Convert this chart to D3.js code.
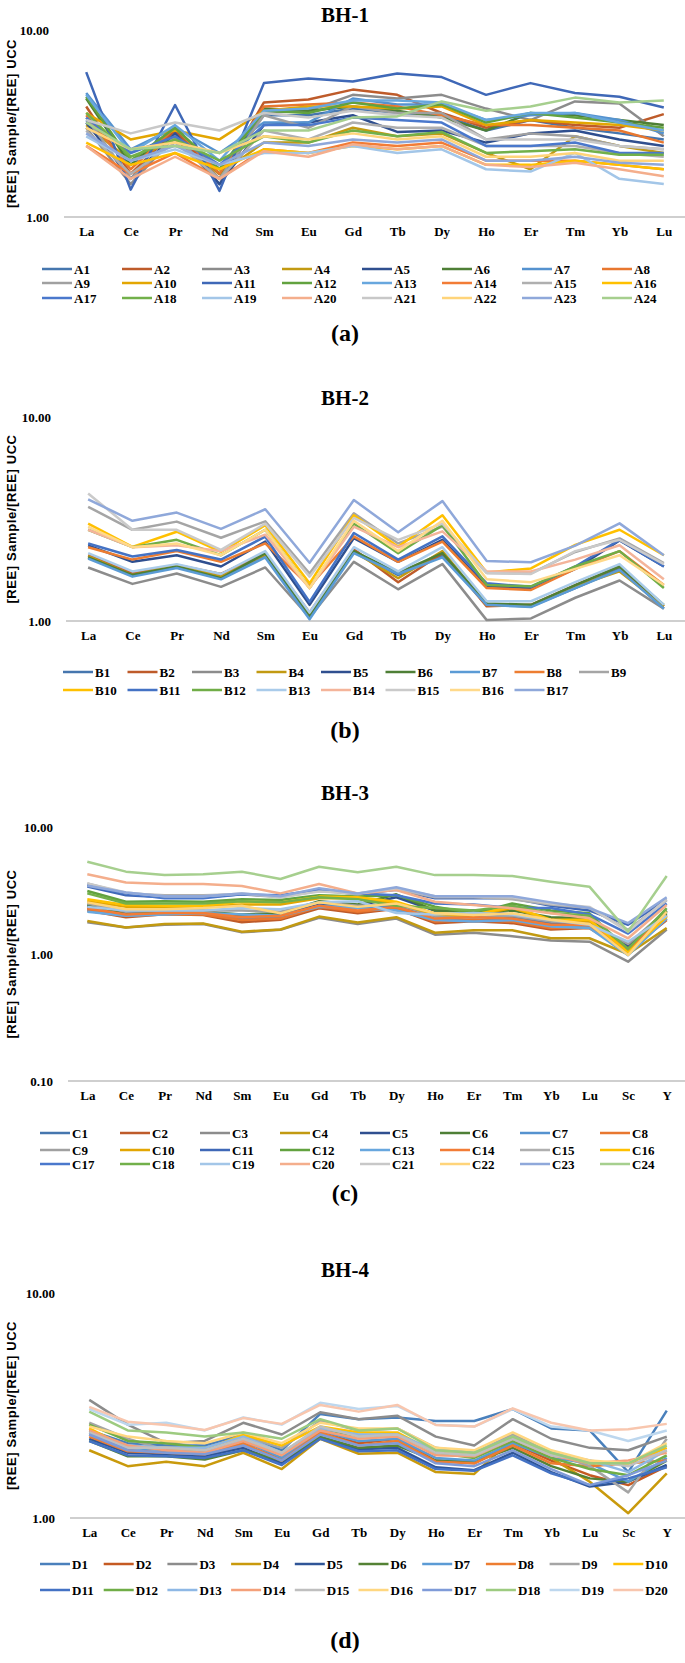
<!DOCTYPE html>
<html><head><meta charset="utf-8">
<script src="https://cdn.jsdelivr.net/npm/d3@7"></script>
<style>body{margin:0;background:#fff}svg{display:block}text{font-family:"Liberation Serif","Times New Roman",serif;font-weight:bold;fill:#000}</style>
</head><body>
<script>
const catsREE = ["La","Ce","Pr","Nd","Sm","Eu","Gd","Tb","Dy","Ho","Er","Tm","Yb","Lu"];
const catsREEY = ["La","Ce","Pr","Nd","Sm","Eu","Gd","Tb","Dy","Ho","Er","Tm","Yb","Lu","Sc","Y"];
const palette24 = ["#4676AE","#BE5B2A","#8C8C8C","#C29A12","#2F4F8F","#4E7F36",
  "#5592CF","#E8772F","#A0A0A0","#E3A602","#3F68B7","#62A23F",
  "#68A7DE","#F27C36","#AFAFAF","#FFC000","#4A78CC","#72B04A",
  "#A3C6E8","#F4AE8C","#C8C8C8","#FFD47A","#8FA8DA","#A6CF8E"];
const palette17 = ["#4676AE","#BE5B2A","#8C8C8C","#C29A12","#2F4F8F","#4E7F36",
  "#5B9BD5","#ED7D31","#A5A5A5","#FFC000","#4472C4","#70AD47",
  "#A9CBEA","#F4B49A","#CACACA","#FFD98A","#8FA8DA"];
const palette20 = ["#4A80BC","#C55A22","#8C8C8C","#C99A0C","#2F5597","#548235",
  "#5B9BD5","#ED7D31","#A5A5A5","#FFC000","#4472C4","#70AD47",
  "#8EB8E5","#F4A07A","#BFBFBF","#FFD780","#7F9BD8","#9DCB80","#BDD7EE","#F8C6AE"];

const namesA = d3.range(1,25).map(i=>"A"+i);
const valuesA = [
 [3.3,1.9,2.9,1.8,3.5,3.5,3.8,3.6,3.5,2.9,3.3,3.0,2.8,2.6],
 [3.9,1.7,2.9,1.6,4.1,4.25,4.8,4.5,3.6,3.0,3.3,3.1,3.0,3.55],
 [3.0,1.5,2.7,1.5,3.6,3.7,4.5,4.3,4.5,3.8,3.3,4.15,4.05,2.7],
 [3.1,2.0,2.6,1.7,2.5,2.5,3.0,2.7,2.8,2.2,1.8,2.7,2.4,2.2],
 [3.2,1.6,2.8,1.5,3.1,3.2,3.5,2.85,2.9,2.5,2.8,2.9,2.6,2.4],
 [4.3,1.9,3.0,1.7,3.8,3.7,3.9,3.7,3.4,2.9,3.6,3.5,3.3,3.1],
 [4.6,2.3,3.0,2.2,3.2,3.2,4.3,4.0,4.0,3.3,3.5,3.6,3.3,2.8],
 [3.5,1.8,3.0,1.7,3.9,4.0,4.1,3.9,3.5,3.1,3.1,3.0,2.9,2.5],
 [3.4,1.6,2.7,1.6,3.5,3.0,3.9,3.6,3.6,2.6,2.8,2.7,2.4,2.3],
 [3.6,2.6,2.9,2.6,3.7,3.9,3.9,3.8,3.9,3.1,3.3,3.2,3.1,2.9],
 [5.95,1.4,3.97,1.38,5.2,5.5,5.3,5.85,5.6,4.5,5.2,4.6,4.4,3.85],
 [4.4,2.0,3.0,1.8,3.7,3.6,4.1,3.8,4.0,3.2,3.6,3.4,3.2,3.0],
 [4.5,2.2,3.1,2.0,3.7,3.8,4.2,4.2,4.1,3.3,3.6,3.6,3.2,2.9],
 [2.4,1.7,2.2,1.6,2.3,2.2,2.5,2.4,2.5,2.0,2.0,2.0,1.9,1.8],
 [2.9,1.7,2.5,1.6,2.9,2.6,3.2,3.0,3.0,2.4,2.4,2.4,2.2,2.1],
 [2.5,1.9,2.2,1.8,2.3,2.2,2.4,2.3,2.4,1.9,1.9,2.0,1.9,1.8],
 [3.4,2.2,2.7,1.9,3.1,3.1,3.4,3.3,3.2,2.4,2.4,2.5,2.2,2.2],
 [3.6,2.1,2.6,2.0,2.7,2.5,2.9,2.7,2.85,2.2,2.25,2.3,2.15,2.15],
 [2.7,2.0,2.3,1.9,2.2,2.2,2.4,2.2,2.3,1.8,1.75,2.2,1.6,1.5],
 [2.4,1.6,2.1,1.6,2.25,2.1,2.45,2.3,2.4,1.9,1.85,1.95,1.8,1.65],
 [3.3,2.8,3.2,2.9,3.6,3.4,3.7,3.5,3.4,2.6,2.6,2.6,2.4,2.3],
 [3.0,2.3,2.5,2.2,2.7,2.6,2.8,2.6,2.7,2.1,2.1,2.2,2.0,2.0],
 [2.8,2.0,2.4,1.9,2.5,2.4,2.6,2.5,2.6,2.0,2.0,2.1,1.95,1.9],
 [3.2,2.3,2.4,2.2,2.9,2.9,3.4,3.45,4.15,3.7,3.9,4.35,4.1,4.2]
];

const namesB = d3.range(1,18).map(i=>"B"+i);
const valuesB = [
 [2.05,1.70,1.85,1.65,2.10,1.07,2.20,1.68,2.10,1.20,1.18,1.45,1.80,1.15],
 [2.10,1.72,1.88,1.70,2.15,1.10,2.25,1.55,2.15,1.18,1.20,1.50,1.85,1.18],
 [1.83,1.52,1.71,1.47,1.83,1.04,1.95,1.43,1.90,1.01,1.03,1.30,1.58,1.15],
 [2.08,1.68,1.87,1.65,2.12,1.08,2.18,1.62,2.20,1.20,1.18,1.48,1.75,1.18],
 [2.35,1.95,2.10,1.85,2.45,1.20,2.55,1.95,2.50,1.48,1.45,1.80,2.48,1.85],
 [2.05,1.68,1.85,1.62,2.15,1.05,2.20,1.72,2.15,1.22,1.20,1.50,1.85,1.20],
 [2.02,1.65,1.82,1.60,2.05,1.02,2.15,1.70,2.05,1.20,1.17,1.45,1.78,1.15],
 [2.30,2.00,2.20,1.95,2.40,1.48,2.60,1.95,2.45,1.45,1.42,1.80,2.20,1.50],
 [3.63,2.80,3.07,2.56,3.08,1.71,3.37,2.40,2.90,1.72,1.71,2.18,2.54,1.92],
 [3.00,2.31,2.74,2.18,2.95,1.53,3.30,2.31,3.30,1.73,1.81,2.36,2.80,2.10],
 [2.40,2.07,2.23,2.00,2.59,1.24,2.70,2.00,2.60,1.53,1.47,1.85,2.50,1.85],
 [2.80,2.30,2.50,2.10,2.80,1.45,3.00,2.15,2.95,1.50,1.48,1.85,2.20,1.45],
 [2.15,1.75,1.90,1.70,2.20,1.10,2.30,1.75,2.30,1.25,1.25,1.55,1.90,1.20],
 [2.80,2.30,2.35,2.20,2.65,1.45,2.90,2.30,2.75,1.75,1.75,2.00,2.35,1.60],
 [4.22,2.80,2.80,2.23,3.00,1.65,3.20,2.50,3.00,1.72,1.70,2.20,2.50,1.90],
 [2.90,2.30,2.40,2.10,2.80,1.45,3.10,2.20,3.10,1.60,1.55,1.80,2.10,1.50],
 [3.95,3.10,3.40,2.83,3.53,1.93,3.92,2.72,3.87,1.97,1.94,2.34,3.01,2.10]
];

const namesC = d3.range(1,25).map(i=>"C"+i);
const valuesC = [
 [2.30,2.05,2.10,2.10,2.00,2.05,2.45,2.30,2.40,2.00,1.95,1.95,1.75,1.70,1.10,2.05],
 [2.20,1.95,2.06,2.03,1.78,1.86,2.29,2.09,2.27,1.75,1.81,1.75,1.56,1.60,1.05,1.85],
 [1.78,1.62,1.70,1.72,1.48,1.55,1.93,1.72,1.90,1.42,1.47,1.38,1.28,1.25,0.87,1.56],
 [1.82,1.62,1.72,1.74,1.50,1.56,1.97,1.77,1.95,1.47,1.54,1.54,1.33,1.33,1.00,1.60],
 [2.40,2.10,2.15,2.20,1.95,2.05,2.50,2.40,2.80,2.20,2.20,2.05,1.90,1.85,1.15,2.15],
 [2.45,2.05,2.15,2.15,2.05,2.10,2.60,2.45,2.95,2.20,2.15,2.20,1.95,1.90,1.10,2.10],
 [2.25,2.00,2.10,2.10,1.90,1.95,2.40,2.35,2.30,1.90,1.85,1.85,1.65,1.65,1.05,1.95],
 [2.25,2.00,2.05,2.05,1.85,1.90,2.35,2.15,2.30,1.80,1.85,1.80,1.60,1.62,1.08,1.90],
 [2.50,2.15,2.20,2.20,2.20,2.15,2.55,2.40,2.45,2.00,1.95,2.00,1.80,1.75,1.20,2.20],
 [2.60,2.35,2.35,2.35,2.45,2.45,2.75,2.75,2.50,2.05,2.00,2.30,1.85,1.80,1.05,2.00],
 [3.40,2.90,2.80,2.80,2.95,2.85,3.20,2.95,3.20,2.75,2.75,2.75,2.40,2.20,1.70,2.70],
 [3.13,2.58,2.60,2.58,2.70,2.66,2.90,2.83,2.90,2.36,2.09,2.50,2.20,2.09,1.07,2.20],
 [2.15,2.00,2.05,2.10,2.05,2.00,2.35,2.30,2.20,1.85,1.80,1.85,1.65,1.60,0.98,1.90],
 [2.30,2.05,2.10,2.10,1.95,2.00,2.40,2.20,2.35,1.90,1.95,1.90,1.70,1.70,1.10,2.00],
 [3.60,3.00,2.90,2.90,2.95,2.80,3.15,2.95,3.25,2.80,2.80,2.70,2.45,2.30,1.55,2.65],
 [2.70,2.43,2.40,2.40,2.58,2.55,2.83,2.80,2.58,2.09,2.03,2.36,1.86,1.86,1.03,1.97],
 [3.50,3.00,2.75,2.75,2.95,2.90,3.20,3.00,2.90,2.50,2.45,2.30,2.30,2.05,1.45,2.50],
 [3.00,2.50,2.50,2.50,2.60,2.55,2.80,2.70,2.40,2.30,2.20,2.40,2.10,2.00,1.10,2.30],
 [2.35,2.20,2.20,2.20,2.30,2.25,2.55,2.60,2.10,2.05,2.10,2.05,1.85,1.70,1.25,2.00],
 [4.24,3.65,3.56,3.56,3.43,3.00,3.56,3.00,3.19,2.58,2.43,2.29,2.09,1.91,1.33,2.43],
 [3.60,3.05,2.85,2.85,3.00,2.80,3.10,3.00,3.30,2.85,2.83,2.80,2.50,2.35,1.50,2.70],
 [2.55,2.25,2.25,2.30,2.40,2.09,2.55,2.35,2.50,2.09,2.03,2.09,1.86,1.72,0.98,2.15],
 [3.45,3.05,2.85,2.85,3.00,2.85,3.30,3.00,3.35,2.85,2.85,2.85,2.55,2.30,1.75,2.80],
 [5.33,4.45,4.18,4.24,4.45,3.90,4.87,4.40,4.87,4.18,4.18,4.11,3.71,3.39,1.50,4.11]
];

const namesD = d3.range(1,21).map(i=>"D"+i);
const valuesD = [
 [2.45,2.15,2.10,2.10,2.35,2.00,2.90,2.75,2.80,2.70,2.70,3.05,2.50,2.45,1.60,3.00],
 [2.35,2.00,1.95,1.90,2.10,1.85,2.40,2.15,2.25,1.80,1.75,2.15,1.80,1.55,1.40,1.70],
 [3.35,2.60,2.15,2.20,2.65,2.35,2.95,2.75,2.85,2.30,2.10,2.75,2.25,2.05,2.00,2.30],
 [2.00,1.70,1.78,1.70,1.95,1.65,2.25,1.93,1.95,1.60,1.57,2.25,1.85,1.45,1.05,1.58],
 [2.25,1.95,1.92,1.88,2.05,1.75,2.28,2.02,2.05,1.68,1.63,1.95,1.60,1.38,1.45,1.72],
 [2.20,1.88,1.88,1.82,2.00,1.80,2.30,2.05,2.10,1.80,1.78,2.05,1.70,1.50,1.45,1.80],
 [2.40,2.05,2.00,1.98,2.20,1.85,2.45,2.20,2.25,1.85,1.80,2.15,1.85,1.75,1.45,1.85],
 [2.30,1.98,1.95,1.92,2.15,1.80,2.40,2.10,2.20,1.78,1.75,2.10,1.75,1.70,1.75,1.80],
 [2.65,2.25,2.00,2.05,2.30,2.05,2.70,2.45,2.50,2.05,1.95,2.35,1.95,1.70,1.30,2.25],
 [2.50,2.05,2.05,2.00,2.35,2.10,2.55,2.40,2.40,1.95,1.90,2.30,1.95,1.75,1.75,2.05],
 [2.20,1.90,1.88,1.85,2.00,1.72,2.25,1.98,2.00,1.65,1.62,1.90,1.58,1.40,1.50,1.68],
 [2.60,2.20,2.15,2.05,2.25,1.95,2.50,2.30,2.35,1.95,1.85,2.20,1.85,1.65,1.55,1.90],
 [2.35,2.10,2.05,2.05,2.30,1.95,2.50,2.35,2.35,2.00,1.95,2.30,1.95,1.80,1.60,2.00],
 [2.45,2.10,2.00,1.95,2.20,1.90,2.45,2.25,2.30,1.90,1.88,2.25,1.90,1.75,1.80,1.95],
 [2.40,2.05,2.05,2.00,2.25,1.95,2.55,2.30,2.35,1.95,1.90,2.25,1.90,1.80,1.70,2.00],
 [2.55,2.30,2.20,2.15,2.40,2.15,2.65,2.50,2.50,2.05,2.00,2.40,2.00,1.80,1.75,2.15],
 [2.35,2.00,1.95,1.92,2.10,1.80,2.35,2.10,2.15,1.75,1.70,2.00,1.65,1.40,1.55,1.80],
 [2.97,2.45,2.40,2.30,2.40,2.25,2.75,2.45,2.50,2.00,1.95,2.30,1.95,1.75,1.75,2.10],
 [3.05,2.60,2.65,2.45,2.80,2.60,3.25,3.05,3.15,2.60,2.55,3.05,2.55,2.45,2.20,2.45],
 [3.12,2.68,2.59,2.46,2.78,2.62,3.18,2.97,3.18,2.59,2.55,3.07,2.65,2.45,2.48,2.62]
];

const W = 685, H = 1663;
const svg = d3.select("body").append("svg").attr("width", W).attr("height", H);

function panel(cfg) {
  const g = svg.append("g");
  const x = d3.scalePoint().domain(cfg.cats).range([cfg.x0, cfg.x1]).padding(0.5);
  const y = d3.scaleLog().domain(cfg.ydom).range([cfg.yBottom, cfg.yTop]);
  const pal = cfg.palette;

  g.append("text").attr("x", 345).attr("y", cfg.titleY).attr("text-anchor","middle")
    .attr("dominant-baseline","central").style("font-size","21px").text(cfg.title);

  g.append("line").attr("x1", cfg.x0).attr("x2", cfg.x1).attr("y1", cfg.yBottom).attr("y2", cfg.yBottom)
    .attr("stroke","#BFBFBF").attr("stroke-width",1.3);

  const ya = g.append("g").attr("transform",`translate(${cfg.x0 - 12},0)`)
    .call(d3.axisLeft(y).tickValues(cfg.yticks).tickFormat(d3.format(".2f")).tickSize(0));
  ya.select(".domain").remove();
  ya.selectAll("text").style("font-size","13px").style("font-family",'"Liberation Serif",serif').style("font-weight","bold");

  const xa = g.append("g").attr("transform",`translate(0,${cfg.yBottom + 7})`)
    .call(d3.axisBottom(x).tickSize(0));
  xa.select(".domain").remove();
  xa.selectAll("text").style("font-size","13px").style("font-family",'"Liberation Serif",serif').style("font-weight","bold");

  g.append("text").attr("transform",`translate(11,${(cfg.yTop+cfg.yBottom)/2}) rotate(-90)`)
    .attr("text-anchor","middle").attr("dominant-baseline","central")
    .style("font-size","13px").style("font-family",'"Liberation Sans",Arial,sans-serif').style("letter-spacing","0.6px")
    .text("[REE] Sample/[REE] UCC");

  const line = d3.line().x((d,i)=>x(cfg.cats[i])).y(d=>y(d));
  cfg.values.forEach((vals, si) => {
    g.append("path").attr("d", line(vals)).attr("fill","none")
      .attr("stroke", pal[si]).attr("stroke-width", 2.5).attr("stroke-linejoin","round");
  });

  cfg.names.forEach((n, i) => {
    const r = Math.floor(i / cfg.legCols), c = i % cfg.legCols;
    const lx = cfg.legX + c * cfg.legDx, ly = cfg.legY[r];
    g.append("line").attr("x1", lx).attr("x2", lx + 30).attr("y1", ly).attr("y2", ly)
      .attr("stroke", pal[i]).attr("stroke-width", 2.5);
    g.append("text").attr("x", lx + 32).attr("y", ly).attr("dominant-baseline","central")
      .style("font-size","13px").text(n);
  });

  g.append("text").attr("x", 345).attr("y", cfg.subY).attr("text-anchor","middle")
    .attr("dominant-baseline","central").style("font-size","24px").text(cfg.sub);
}

panel({title:"BH-1", titleY:15, cats:catsREE, x0:64, x1:686, yTop:30, yBottom:217, ydom:[1,10], yticks:[1,10],
  values:valuesA, names:namesA, palette:palette24, legCols:8, legX:42, legDx:80, legY:[269,283,298], sub:"(a)", subY:333});
panel({title:"BH-2", titleY:398, cats:catsREE, x0:66, x1:686, yTop:417, yBottom:621, ydom:[1,10], yticks:[1,10],
  values:valuesB, names:namesB, palette:palette17, legCols:9, legX:63, legDx:64.5, legY:[672,690], sub:"(b)", subY:730});
panel({title:"BH-3", titleY:793, cats:catsREEY, x0:68, x1:686, yTop:827, yBottom:1081, ydom:[0.1,10], yticks:[0.1,1,10],
  values:valuesC, names:namesC, palette:palette24, legCols:8, legX:40, legDx:80, legY:[1133,1150,1164], sub:"(c)", subY:1193});
panel({title:"BH-4", titleY:1270, cats:catsREEY, x0:70, x1:686, yTop:1293, yBottom:1518, ydom:[1,10], yticks:[1,10],
  values:valuesD, names:namesD, palette:palette20, legCols:10, legX:40, legDx:63.7, legY:[1564,1590], sub:"(d)", subY:1640});
</script>
</body></html>
